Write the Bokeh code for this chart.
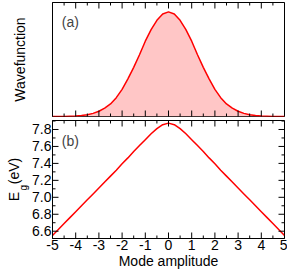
from bokeh.plotting import figure
from bokeh.models import (LinearAxis, FixedTicker, Range1d, Label,
                          NumeralTickFormatter, CustomJSTickFormatter)
from bokeh.layouts import column
from bokeh.embed import file_html
from bokeh.resources import INLINE

# ---- data ----
amplitude = [-5.0, -4.75, -4.5, -4.25, -4.0, -3.75, -3.5, -3.25, -3.0, -2.75, -2.5, -2.25,
             -2.0, -1.75, -1.5, -1.25, -1.0, -0.75, -0.5, -0.25, 0.0,
             0.25, 0.5, 0.75, 1.0, 1.25, 1.5, 1.75, 2.0, 2.25, 2.5, 2.75,
             3.0, 3.25, 3.5, 3.75, 4.0, 4.25, 4.5, 4.75, 5.0]
wavefunction = [0.0, 0.0005, 0.001, 0.003, 0.005, 0.009, 0.017, 0.03, 0.05, 0.08, 0.12, 0.18,
                0.26, 0.36, 0.47, 0.59, 0.72, 0.83, 0.92, 0.98, 1.0,
                0.98, 0.92, 0.83, 0.72, 0.59, 0.47, 0.36, 0.26, 0.18, 0.12, 0.08,
                0.05, 0.03, 0.017, 0.009, 0.005, 0.003, 0.001, 0.0005, 0.0]
gap_ev = [6.55, 6.62, 6.69, 6.76, 6.83, 6.90, 6.97, 7.04, 7.11, 7.18, 7.25, 7.32,
          7.395, 7.465, 7.54, 7.61, 7.68, 7.75, 7.81, 7.857, 7.875,
          7.857, 7.81, 7.75, 7.68, 7.61, 7.54, 7.465, 7.395, 7.32, 7.25, 7.18,
          7.11, 7.04, 6.97, 6.90, 6.83, 6.76, 6.69, 6.62, 6.55]

# tick positions
x_major = [-5, -4, -3, -2, -1, 0, 1, 2, 3, 4, 5]
x_minor = [-4.5, -3.5, -2.5, -1.5, -0.5, 0.5, 1.5, 2.5, 3.5, 4.5]
y_major = [6.6, 6.8, 7.0, 7.2, 7.4, 7.6, 7.8]
y_minor = [6.7, 6.9, 7.1, 7.3, 7.5, 7.7, 7.9]

FONT = "Liberation Sans"
RED = "#ff0000"
PINK = "#ffc6c6"
NBSP = "\u00a0"
BLANK = CustomJSTickFormatter(code="return ''")
MAJ, MIN = 12, 6   # marker sizes -> half of it visible inside the frame
LEFT = 52


def style_axis(ax, labels=True):
    ax.axis_line_color = "black"
    ax.major_tick_in = 0
    ax.major_tick_out = 0
    ax.minor_tick_in = 0
    ax.minor_tick_out = 0
    ax.major_label_text_font = FONT
    ax.major_label_text_color = "black"
    ax.axis_label_text_font = FONT
    ax.axis_label_text_font_style = "normal"
    ax.axis_label_text_font_size = "14px"
    ax.axis_label_text_color = "black"
    ax.axis_label_standoff = 0
    if labels:
        ax.major_label_text_font_size = "14px"
        ax.major_label_standoff = 1
    else:
        ax.formatter = BLANK
        ax.major_label_text_font_size = "0px"
        ax.major_label_standoff = 0


def base_fig(fh, yr):
    p = figure(frame_width=287 - LEFT - 3, frame_height=fh, output_backend="svg",
               toolbar_location=None, x_range=Range1d(-5, 5), y_range=yr,
               x_axis_location=None, y_axis_location=None,
               min_border_left=LEFT, min_border_right=3, min_border_top=2,
               min_border_bottom=2)
    p.grid.visible = False
    p.outline_line_color = "black"
    p.outline_line_width = 1
    p.background_fill_color = None
    p.border_fill_color = None
    return p


def x_ticks(p):
    for yv in (p.y_range.start, p.y_range.end):
        p.scatter(x_major, [yv] * len(x_major), marker="dash", angle=1.5708,
                  size=MAJ, line_color="black", line_width=1)
        p.scatter(x_minor, [yv] * len(x_minor), marker="dash", angle=1.5708,
                  size=MIN, line_color="black", line_width=1)


# ---------- top panel ----------
top = base_fig(114, Range1d(0, 1.09))
top.varea(x=amplitude, y1=0, y2=wavefunction, fill_color=PINK)
top.line(amplitude, wavefunction, line_color=RED, line_width=1.5)
x_ticks(top)
ly = LinearAxis(ticker=FixedTicker(ticks=[]), axis_label="Wavefunction")
style_axis(ly, labels=False)
ly.axis_label_standoff = 25
top.add_layout(ly, "left")
top.add_layout(Label(x=-4.6, y=0.905, text="(a)", text_font=FONT,
                     text_font_size="14px", text_baseline="middle"))

# ---------- bottom panel ----------
bot = base_fig(118, Range1d(6.514, 7.906))
bot.min_border_bottom = 32
bot.line(amplitude, gap_ev, line_color=RED, line_width=1.5)
x_ticks(bot)
for xv in (-5, 5):
    bot.scatter([xv] * len(y_major), y_major, marker="dash", size=MAJ,
                line_color="black", line_width=1)
    bot.scatter([xv] * len(y_minor), y_minor, marker="dash", size=MIN,
                line_color="black", line_width=1)

bx = LinearAxis(ticker=FixedTicker(ticks=x_major), axis_label="Mode amplitude",
                formatter=NumeralTickFormatter(format="0"))
style_axis(bx, labels=True)
bot.add_layout(bx, "below")

# left axis: tick labels, with the subscript "g" as its axis label
byl = LinearAxis(ticker=FixedTicker(ticks=y_major),
                 formatter=NumeralTickFormatter(format="0.0"),
                 axis_label="g" + NBSP * 6)
style_axis(byl, labels=True)
byl.axis_label_text_font_size = "10px"
bot.add_layout(byl, "left")
# outer axis carrying "E (eV)", pulled inward so the "g" sits as a subscript
bye = LinearAxis(ticker=FixedTicker(ticks=[]),
                 axis_label="E" + NBSP * 2 + "(eV)")
style_axis(bye, labels=False)
bye.axis_line_color = None
bye.axis_label_standoff = -6
bot.add_layout(bye, "left")

bot.add_layout(Label(x=-4.6, y=7.67, text="(b)", text_font=FONT,
                     text_font_size="14px", text_baseline="middle"))

layout = column(top, bot, spacing=0)
open("out.html", "w").write(file_html(layout, INLINE))
